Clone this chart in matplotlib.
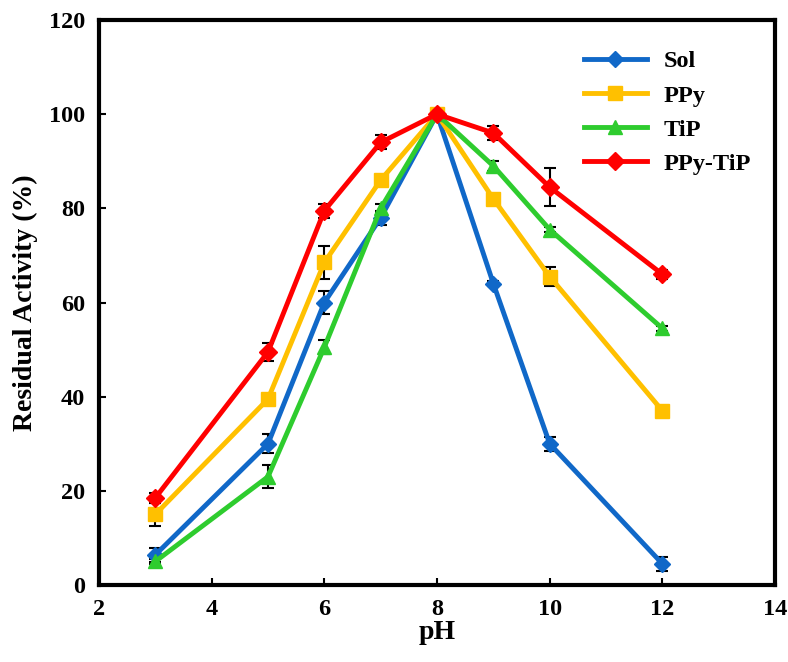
import matplotlib
matplotlib.use("Agg")
import matplotlib.pyplot as plt

plt.rcParams['font.family'] = ['Liberation Serif', 'DejaVu Serif']
plt.rcParams['font.weight'] = 'bold'

ph = [3, 5, 6, 7, 8, 9, 10, 12]
sol = [6.4, 30, 60, 78, 100, 64, 30, 4.5]
sol_err = [1.5, 2, 2.5, 1.5, 0.5, 0.5, 1.5, 1.5]
ppy = [15, 39.5, 68.5, 86, 100, 82, 65.5, 37]
ppy_err = [2.5, 0.5, 3.5, 1, 0.5, 0.5, 2, 0.5]
tip = [5, 23, 50.5, 80, 100, 89, 75.5, 54.5]
tip_err = [0.5, 2.5, 1.5, 1, 0.5, 1, 0.5, 0.5]
ppytip = [18.5, 49.5, 79.5, 94, 100, 96, 84.5, 66]
ppytip_err = [1, 2, 1.5, 1.5, 0.5, 1.5, 4, 1]

series = [
    ("Sol", sol, sol_err, "#1068C8", "D", 8),
    ("PPy", ppy, ppy_err, "#FFC000", "s", 10),
    ("TiP", tip, tip_err, "#2ECC2E", "^", 10),
    ("PPy-TiP", ppytip, ppytip_err, "#FF0000", "D", 9),
]

fig = plt.figure(figsize=(7.88, 6.62), dpi=100)
ax = fig.add_axes([0.1256, 0.1163, 0.858, 0.8535])

for name, y, e, c, m, ms in series:
    ax.errorbar(ph, y, yerr=e, fmt='none', ecolor='black', elinewidth=1.5, capsize=4, capthick=1.5, zorder=2)
for name, y, e, c, m, ms in series:
    ax.plot(ph, y, color=c, marker=m, markersize=ms, linewidth=3.5, label=name, zorder=3)

ax.set_xlim(2, 14)
ax.set_ylim(0, 120)
ax.set_xticks([2, 4, 6, 8, 10, 12, 14])
ax.set_yticks([0, 20, 40, 60, 80, 100, 120])
for s in ax.spines.values():
    s.set_linewidth(3)
ax.tick_params(direction='in', length=5, width=1.5, labelsize=17.5, top=False, right=False, pad=10)
for lbl in ax.get_xticklabels() + ax.get_yticklabels():
    lbl.set_fontweight('bold')
ax.set_xlabel("pH", fontsize=20, fontweight='bold', labelpad=0)
ax.set_ylabel("Residual Activity (%)", fontsize=20, fontweight='bold', labelpad=8)

leg = ax.legend(loc='upper right', bbox_to_anchor=(0.997, 0.985), frameon=False, fontsize=17.5,
                handlelength=2.6, labelspacing=0.5, handletextpad=0.7)
for t in leg.get_texts():
    t.set_fontweight('bold')

fig.savefig("out.png", dpi=100)
